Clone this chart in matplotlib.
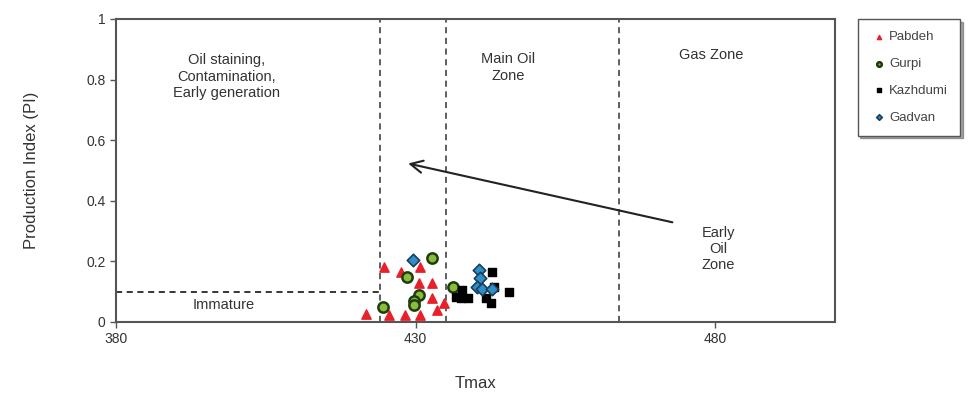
import numpy as np
import matplotlib
matplotlib.use("Agg")
import matplotlib.pyplot as plt

plt.rcParams['font.family'] = ['Liberation Sans', 'DejaVu Sans']

# Tmax / PI values
pabdeh_tmax = [424.7, 427.5, 430.5, 432.7, 432.7, 434.7, 421.8, 425.5, 428.3, 430.8, 430.8, 433.5]
pabdeh_pi = [0.18, 0.165, 0.13, 0.13, 0.08, 0.063, 0.027, 0.023, 0.023, 0.023, 0.18, 0.04]

gurpi_tmax = [432.7, 428.5, 430.5, 429.7, 429.7, 424.5, 436.3]
gurpi_pi = [0.21, 0.15, 0.09, 0.07, 0.056, 0.05, 0.115]

kazhdumi_tmax = [442.7, 445.5, 442.5, 437.7, 436.7, 437.5, 438.8, 441.7, 443.0]
kazhdumi_pi = [0.165, 0.10, 0.063, 0.105, 0.083, 0.08, 0.08, 0.08, 0.115]

gadvan_tmax = [429.5, 440.5, 440.8, 440.2, 441.0, 442.7]
gadvan_pi = [0.205, 0.17, 0.145, 0.115, 0.11, 0.11]

zone_bounds = [424, 435, 464]
immature_pi = 0.1

fig = plt.figure(figsize=(9.79, 4.03), dpi=100)
ax = fig.add_axes([0.1185, 0.201, 0.7345, 0.752])

for xb in zone_bounds:
    ax.axvline(xb, color='#333333', linestyle=(0, (4, 3)), linewidth=1.1, zorder=1)
ax.plot([380, zone_bounds[0]], [immature_pi, immature_pi], color='black',
        linestyle=(0, (4, 3)), linewidth=1.1, zorder=1)

ax.scatter(pabdeh_tmax, pabdeh_pi, marker='^', s=45, color='#e8202a', zorder=3, label='Pabdeh')
ax.scatter(gurpi_tmax, gurpi_pi, marker='o', s=55, facecolor='#8bbd3a', edgecolor='#1f3d10',
           linewidths=1.8, zorder=3, label='Gurpi')
ax.scatter(kazhdumi_tmax, kazhdumi_pi, marker='s', s=30, color='black', zorder=3, label='Kazhdumi')
ax.scatter(gadvan_tmax, gadvan_pi, marker='D', s=40, facecolor='#2d8fc6', edgecolor='#1a3e5c',
           linewidths=1.2, zorder=4, label='Gadvan')

ax.annotate('', xy=(428.3, 0.525), xytext=(473.3, 0.327),
            arrowprops=dict(arrowstyle='->', color='#222222', lw=1.5, mutation_scale=22))

ax.text(398.5, 0.81, 'Oil staining,\nContamination,\nEarly generation', ha='center', va='center',
        fontsize=10.5, color='#333333', linespacing=1.2)
ax.text(445.5, 0.84, 'Main Oil\nZone', ha='center', va='center', fontsize=10.5,
        color='#333333', linespacing=1.2)
ax.text(479.3, 0.88, 'Gas Zone', ha='center', va='center', fontsize=10.5, color='#333333')
ax.text(480.5, 0.24, 'Early\nOil\nZone', ha='center', va='center', fontsize=10.5,
        color='#333333', linespacing=1.2)
ax.text(398.0, 0.055, 'Immature', ha='center', va='center', fontsize=10.5, color='#333333')

ax.set_xlim(380, 500)
ax.set_ylim(0, 1)
ax.set_xticks([380, 430, 480])
ax.set_yticks([0, 0.2, 0.4, 0.6, 0.8, 1.0])
ax.set_yticklabels(['0', '0.2', '0.4', '0.6', '0.8', '1'])
ax.tick_params(direction='out', length=4, width=1, colors='#555555', labelsize=10,
               labelcolor='#333333')
for sp in ax.spines.values():
    sp.set_color('#555555')
    sp.set_linewidth(1.5)

ax.set_xlabel('Tmax', fontsize=12, color='#333333', labelpad=21)
ax.set_ylabel('Production Index (PI)', fontsize=12, color='#333333', labelpad=34)

handles, labels = ax.get_legend_handles_labels()
leg = fig.legend(handles, labels, loc='upper left', bbox_to_anchor=(0.876, 0.952),
                 fontsize=9.5, markerscale=0.45, handletextpad=0.1, handlelength=1.4,
                 labelspacing=1.1, borderpad=0.9, borderaxespad=0, frameon=True,
                 fancybox=False, shadow=True, edgecolor='#555555')
for t in leg.get_texts():
    t.set_color('#444444')

fig.savefig('out.png', dpi=100)
